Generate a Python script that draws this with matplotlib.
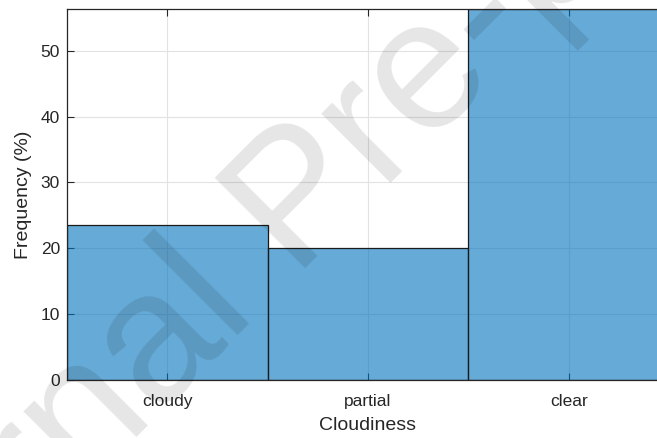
import matplotlib
matplotlib.use("Agg")
import matplotlib.pyplot as plt

# Cloudiness class frequencies (%)
categories = ["cloudy", "partial", "clear"]
frequency = [23.6, 20.1, 56.3]
y_ticks = [0, 10, 20, 30, 40, 50]

plt.rcParams["font.family"] = ["Liberation Sans", "DejaVu Sans"]
text_color = "#262626"

W, H = 657, 438
fig = plt.figure(figsize=(W / 100, H / 100), dpi=100)
ax = fig.add_axes([67 / W, 1 - 380 / H, (669 - 67) / W, (380 - 9.3) / H])

x = list(range(len(categories)))
ax.bar(x, frequency, width=1.0, facecolor=(0.0, 0.447, 0.741, 0.6),
       edgecolor="#1a1a1a", linewidth=0.9, zorder=2)

ax.set_xlim(-0.5, len(categories) - 0.5)
ax.set_ylim(0, max(frequency))
ax.set_xticks(x)
ax.set_xticklabels(categories)
ax.set_yticks(y_ticks)

ax.grid(True, color="#e2e2e2", linewidth=0.8, zorder=0)
ax.set_axisbelow(True)

ax.tick_params(axis="both", direction="in", length=5, width=0.8,
               colors=text_color, labelsize=12.5, top=True, right=True)
ax.tick_params(axis="x", pad=10)
ax.tick_params(axis="y", pad=5)
for s in ax.spines.values():
    s.set_color(text_color)
    s.set_linewidth(0.9)

ax.set_xlabel("Cloudiness", fontsize=14, color=text_color, labelpad=6)
ax.set_ylabel("Frequency (%)", fontsize=14, color=text_color, labelpad=6)

# diagonal watermark laid over the plot
ox, oy = -170, 743
fig.text(ox / W, 1 - oy / H, "Journal Pre-proof", fontsize=133,
         color=(0, 0, 0, 0.1), rotation=45, rotation_mode="anchor",
         ha="left", va="baseline", family=["Liberation Sans", "DejaVu Sans"],
         zorder=10)

fig.savefig("out.png", dpi=100)
